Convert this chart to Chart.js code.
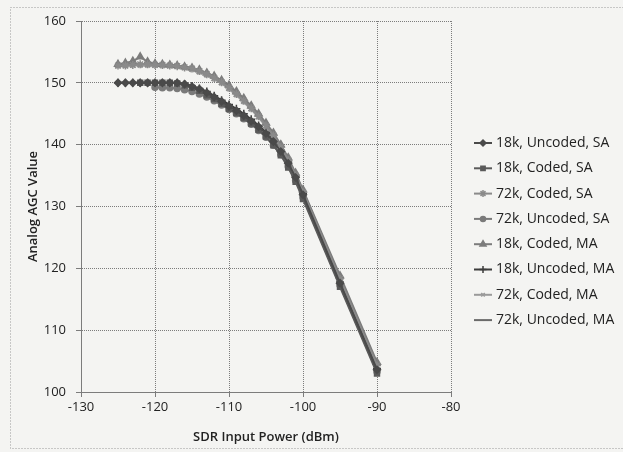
<!DOCTYPE html>
<html>
<head>
<meta charset="utf-8">
<script src="https://cdn.jsdelivr.net/npm/chart.js@4.4.1/dist/chart.umd.min.js"></script>
<style>
  html, body { margin: 0; padding: 0; background: #f4f4f2; }
  #wrap { width: 623px; height: 452px; }
</style>
</head>
<body>
<div id="wrap"><canvas id="agcChart"></canvas></div>
<script>
// SDR input power (dBm) for every sample
const powerDbm = [-125, -124, -123, -122, -121, -120, -119, -118, -117, -116, -115, -114, -113, -112,
                  -111, -110, -109, -108, -107, -106, -105, -104, -103, -102, -101, -100, -95, -90];

// Analog AGC value per series
const u18kSA = [150, 150, 150, 150, 150, 150, 150, 150, 150, 149.8, 149.4, 149, 148.4, 147.7,
                147, 146.2, 145.5, 144.7, 143.8, 142.9, 141.8, 140.5, 138.9, 137, 134.7, 131.9, 117.6, 103.6];
const c18kSA = [null, null, null, 150, 150, 150, 150, 150, 149.9, 149.6, 149.2, 148.7, 148, 147.4,
                146.6, 145.8, 145.1, 144.3, 143.4, 142.4, 141.3, 139.9, 138.3, 136.3, 134, 131.2, 117, 103];
const c72kSA = [152.8, 152.8, 152.9, 153, 153, 152.9, 152.9, 152.8, 152.7, 152.5, 152.3, 151.9, 151.4, 150.8,
                150.1, 149.2, 148.2, 147.1, 145.9, 144.6, 143.1, 141.5, 139.6, 137.5, 135, 132.3, 118.3, 104.3];
const u72kSA = [null, null, null, null, null, 149.3, 149.2, 149.2, 149.1, 148.9, 148.6, 148.2, 147.7, 147.1,
                146.4, 145.7, 145, 144.2, 143.3, 142.3, 141.2, 139.9, 138.4, 136.5, 134.2, 131.5, 117.3, 103.3];
const c18kMA = [153, 153.2, 153.5, 154.2, 153.4, 153.1, 153, 152.9, 152.8, 152.6, 152.4, 152.1, 151.6, 151.1,
                150.4, 149.6, 148.6, 147.5, 146.3, 145, 143.5, 141.9, 140, 137.9, 135.4, 132.7, 118.8, 104.8];
const u18kMA = [150, 150, 150, 150, 150, 150, 150, 150, 150, 149.8, 149.5, 149.1, 148.6, 147.9,
                147.2, 146.5, 145.8, 145, 144.1, 143.1, 142, 140.7, 139.1, 137.2, 134.9, 132.1, 117.8, 103.8];
const c72kMA = [152.7, 152.7, 152.8, 152.8, 152.8, 152.8, 152.7, 152.7, 152.6, 152.4, 152.1, 151.7, 151.2, 150.6,
                149.9, 149, 148, 146.9, 145.7, 144.4, 142.9, 141.3, 139.4, 137.3, 134.8, 132, 118, 104];
const u72kMA = [153, 153, 153, 153, 153, 153, 152.9, 152.9, 152.8, 152.6, 152.4, 152, 151.5, 150.9,
                150.2, 149.3, 148.4, 147.3, 146.1, 144.8, 143.3, 141.7, 139.8, 137.7, 135.2, 132.5, 118.5, 104.5];

const seriesNames = ['18k, Uncoded, SA', '18k, Coded, SA', '72k, Coded, SA', '72k, Uncoded, SA',
                     '18k, Coded, MA', '18k, Uncoded, MA', '72k, Coded, MA', '72k, Uncoded, MA'];
const seriesValues = [u18kSA, c18kSA, c72kSA, u72kSA, c18kMA, u18kMA, c72kMA, u72kMA];

const xTicks = [-130, -120, -110, -100, -90, -80];
const yTicks = [100, 110, 120, 130, 140, 150, 160];

// look of each series (scanned, so all grey)
const looks = [
    { color: '#4a4a4a', point: 'rectRot', radius: 3.5 },
    { color: '#5a5a5a', point: 'rect', radius: 3.5 },
    { color: '#8a8a8a', point: 'star', radius: 4 },
    { color: '#7a7a7a', point: 'circle', radius: 3 },
    { color: '#7c7c7c', point: 'triangle', radius: 4 },
    { color: '#3c3c3c', point: 'cross', radius: 4 },
    { color: '#9a9a9a', point: 'crossRot', radius: 3 },
    { color: '#6a6a6a', point: false, radius: 0 }
];

const datasets = seriesValues.map((vals, i) => ({
    label: seriesNames[i],
    data: powerDbm.map((x, k) => ({ x: x, y: vals[k] })),
    borderColor: looks[i].color,
    backgroundColor: looks[i].color,
    borderWidth: 2,
    pointStyle: looks[i].point,
    pointRadius: looks[i].radius,
    pointBorderWidth: 1.5,
    tension: 0,
    spanGaps: false
}));

// page background and the dotted frame round the whole chart
const pagePlugin = {
    id: 'page',
    beforeDraw(chart) {
        const ctx = chart.ctx;
        ctx.save();
        ctx.fillStyle = '#f4f4f2';
        ctx.fillRect(0, 0, chart.width, chart.height);
        ctx.strokeStyle = '#9a9a9a';
        ctx.lineWidth = 1;
        ctx.setLineDash([1, 2]);
        ctx.strokeRect(10.5, 7.5, 630, 441);
        ctx.restore();
    }
};

// Excel style legend: short line with marker, then the series name
const sideLegend = {
    id: 'sideLegend',
    afterDraw(chart) {
        const ctx = chart.ctx;
        const left = chart.chartArea.right + 23;
        ctx.save();
        ctx.font = '14px "Open Sans", sans-serif';
        ctx.textBaseline = 'middle';
        chart.data.datasets.forEach((ds, i) => {
            const y = 143 + i * 25.3;
            ctx.strokeStyle = ds.borderColor;
            ctx.lineWidth = 2;
            ctx.beginPath(); ctx.moveTo(left, y); ctx.lineTo(left + 18, y); ctx.stroke();
            if (ds.pointStyle) {
                ctx.fillStyle = ds.borderColor;
                ctx.lineWidth = 1.5;
                Chart.helpers.drawPoint(ctx, { pointStyle: ds.pointStyle, radius: ds.pointRadius - 0.5, rotation: 0, borderWidth: 1.5 }, left + 9, y);
            }
            ctx.fillStyle = '#222';
            ctx.fillText(ds.label, left + 22, y);
        });
        ctx.restore();
    }
};

const font = { family: '"Open Sans", sans-serif', size: 13 };
const titleFont = { family: '"Open Sans", sans-serif', size: 13, weight: '600' };

new Chart(document.getElementById('agcChart'), {
    type: 'line',
    data: { datasets: datasets },
    plugins: [pagePlugin, sideLegend],
    options: {
        responsive: true,
        maintainAspectRatio: false,
        animation: false,
        layout: { padding: { left: 25, right: 172, top: 21, bottom: 5 } },
        scales: {
            x: {
                type: 'linear',
                min: -130,
                max: -80,
                afterBuildTicks: s => { s.ticks = xTicks.map(v => ({ value: v })); },
                afterFit: s => { s.height = 55; },
                ticks: { font: font, color: '#222', padding: 2 },
                grid: { color: '#7c7c7c', lineWidth: 1, tickLength: 5 },
                border: { color: '#7c7c7c', dash: [1, 1] },
                title: {
                    display: true,
                    text: 'SDR Input Power (dBm)',
                    font: titleFont,
                    color: '#222',
                    padding: { top: 2, bottom: 2 }
                }
            },
            y: {
                min: 100,
                max: 160,
                afterBuildTicks: s => { s.ticks = yTicks.map(v => ({ value: v })); },
                afterFit: s => { s.width = 56; },
                ticks: { font: font, color: '#222', padding: 10 },
                grid: { color: '#7c7c7c', lineWidth: 1, tickLength: 5 },
                border: { color: '#7c7c7c', dash: [1, 1] },
                title: {
                    display: true,
                    text: 'Analog AGC Value',
                    font: titleFont,
                    color: '#222',
                    padding: 0
                }
            }
        },
        plugins: {
            tooltip: { enabled: false },
            legend: { display: false }
        }
    }
});
</script>
</body>
</html>
